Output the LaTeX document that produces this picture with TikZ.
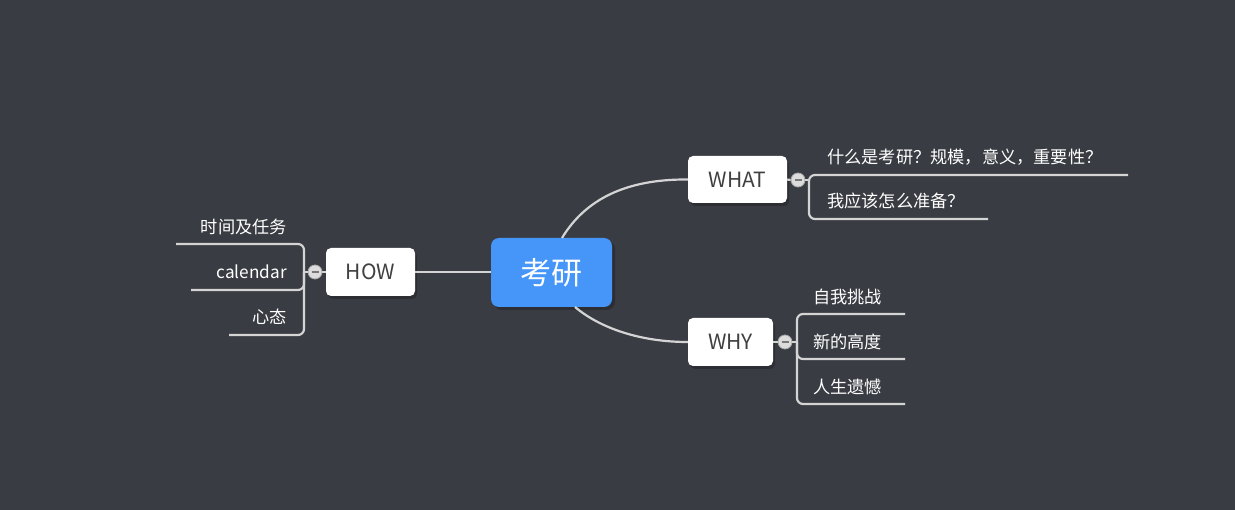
\documentclass[tikz,border=0pt]{standalone}
\usepackage{fontspec}
\setmainfont{Noto Sans CJK SC}
\definecolor{bg}{HTML}{393C42}
\definecolor{shadowc}{HTML}{2C2E33}
\definecolor{mainblue}{HTML}{4596F8}
\definecolor{linec}{HTML}{D4D4D4}
\definecolor{darktext}{HTML}{404040}
\definecolor{knobfill}{HTML}{DCDCDC}
\definecolor{knobedge}{HTML}{A8A8A8}
\tikzset{
  conn/.style={draw=linec, line width=2.2pt},
  bigbox/.style={rectangle, fill=mainblue, rounded corners=8pt, text=white, inner sep=0pt,
    font=\fontsize{31}{36}\selectfont},
  topicbox/.style={rectangle, fill=white, rounded corners=5pt, text=darktext, inner sep=0pt,
    font=\fontsize{21}{25}\selectfont},
  leaf/.style={text=white, inner sep=0pt, font=\fontsize{17.2}{20}\selectfont},
  knob/.style={circle, fill=knobfill, draw=knobedge, line width=0.8pt, minimum size=14pt, inner sep=0pt},
  shadowbox/.style={fill=shadowc, rounded corners=#1},
}
\begin{document}
\begin{tikzpicture}[x=1pt,y={(0pt,-1pt)}]
\useasboundingbox (0,0) rectangle (1235,510);
\fill[bg] (0,0) rectangle (1235,510);

% shadows
\fill[shadowbox=8pt] (494,241) rectangle (615,310);
\fill[shadowbox=5pt] (690,159) rectangle (789,206);
\fill[shadowbox=5pt] (690,321) rectangle (775,369);
\fill[shadowbox=5pt] (328,251) rectangle (417,299);

% main nodes
\node[bigbox, minimum width=121pt, minimum height=69pt] (main) at (551.5,272.5) {考研};
\node[topicbox, minimum width=99pt, minimum height=47pt] (what) at (737.5,179.5) {WHAT};
\node[topicbox, minimum width=85pt, minimum height=48pt] (why) at (730.5,342) {WHY};
\node[topicbox, minimum width=89pt, minimum height=48pt] (how) at (370.5,272) {HOW};

% connectors from main
\coordinate (mtop) at (562,238);
\coordinate (mbot) at (575,307);
\draw[conn] (mtop) .. controls (585,200) and (625,179) .. (what.west);
\draw[conn] (mbot) .. controls (600,328) and (640,342) .. (why.west);
\draw[conn] (main.west |- how.east) -- (how.east);

% knobs
\node[knob] (kw) at (798,180) {};
\node[knob] (ky) at (785,342) {};
\node[knob] (kh) at (315,272) {};
\draw[conn] (what.east) -- (kw.west);
\draw[conn] (why.east) -- (ky.west);
\draw[conn] (how.west) -- (kh.east);

% WHAT children
\coordinate (jw) at (809,180);
\coordinate (w1) at (1128,175);
\coordinate (w2) at (988,219);
\draw[conn] (kw.east) -- (jw);
\draw[conn, rounded corners=6pt] (w1) -| (809,200) |- (w2);
\node[leaf, anchor=west] (tw1) at (827,157) {什么是考研？规模，意义，重要性？};
\node[leaf, anchor=west] (tw2) at (827,201) {我应该怎么准备？};

% WHY children
\coordinate (jy) at (797,342);
\coordinate (y1) at (905,314);
\coordinate (y2) at (905,359);
\coordinate (y3) at (905,404);
\draw[conn] (ky.east) -- (jy);
\draw[conn, rounded corners=6pt] (y1) -| (jy) |- (y3);
\draw[conn, rounded corners=6pt] (jy) |- (y2);
\node[leaf, anchor=west] (ty1) at (813,297) {自我挑战};
\node[leaf, anchor=west] (ty2) at (813,342) {新的高度};
\node[leaf, anchor=west] (ty3) at (813,387) {人生遗憾};

% HOW children
\coordinate (jh) at (304,272);
\coordinate (h1) at (176,244);
\coordinate (h2) at (191,290);
\coordinate (h3) at (229,335);
\draw[conn] (kh.west) -- (jh);
\draw[conn, rounded corners=6pt] (h1) -| (jh) |- (h3);
\draw[conn, rounded corners=6pt] (jh) |- (h2);
\node[leaf, anchor=east] (th1) at (287,227) {时间及任务};
\node[leaf, anchor=east] (th2) at (287,272) {calendar};
\node[leaf, anchor=east] (th3) at (287,317) {心态};

% knob minus signs (drawn last, on top)
\foreach \k in {kw,ky,kh}{
  \draw[darktext!70, line width=2pt] ([xshift=-3.5pt]\k.center) -- ([xshift=3.5pt]\k.center);
}
\end{tikzpicture}
\end{document}
